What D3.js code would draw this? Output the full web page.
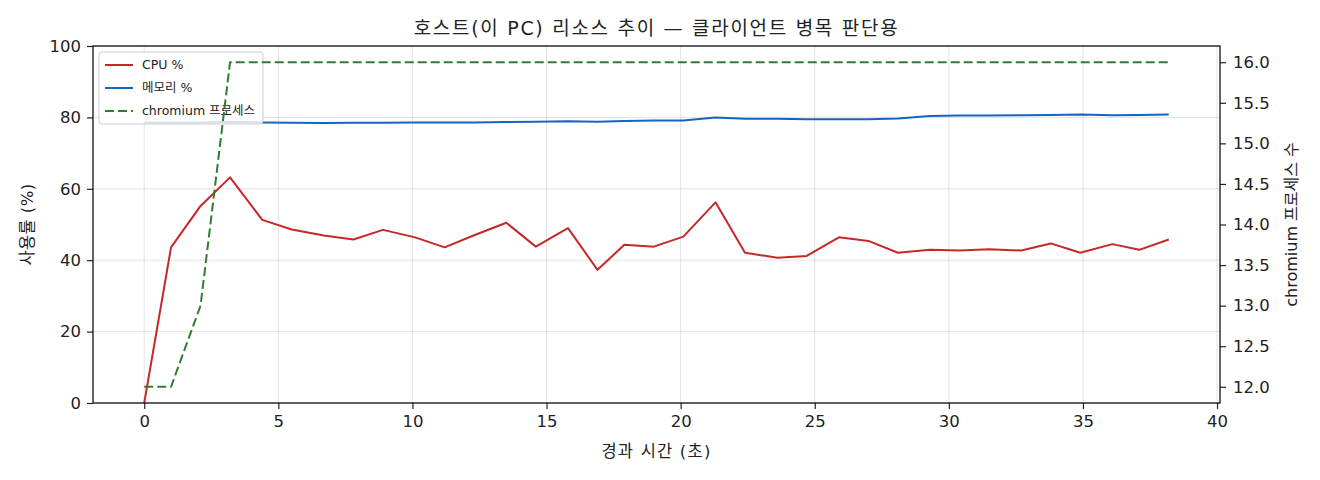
<!DOCTYPE html>
<html>
<head>
<meta charset="utf-8">
<script src="https://cdn.jsdelivr.net/npm/d3@7"></script>
<style>
  body { margin: 0; background: #fff; }
  svg text { font-family: "DejaVu Sans", "Noto Sans CJK KR", sans-serif; fill: #222; }
</style>
</head>
<body>
<script>
// elapsed seconds of each sample
const times = [0, 1.0, 2.1, 3.2, 4.4, 5.5, 6.7, 7.8, 8.9, 10.1, 11.2, 12.3, 13.5, 14.6, 15.8, 16.9, 17.9,
  19.0, 20.1, 21.3, 22.4, 23.6, 24.7, 25.9, 27.0, 28.1, 29.3, 30.4, 31.5, 32.7, 33.8, 34.9, 36.1, 37.1, 38.2];

const cpu = [0, 43.6, 55.2, 63.2, 51.3, 48.6, 46.9, 45.8, 48.5, 46.4, 43.6, 47.0, 50.5, 43.8, 49.0, 37.3, 44.3,
  43.8, 46.6, 56.2, 42.1, 40.7, 41.2, 46.4, 45.4, 42.1, 42.9, 42.7, 43.1, 42.7, 44.7, 42.1, 44.5, 42.9, 45.8];

const mem = [78.6, 78.6, 78.6, 78.7, 78.6, 78.5, 78.4, 78.5, 78.5, 78.6, 78.6, 78.6, 78.7, 78.8, 78.9, 78.8, 79.0,
  79.1, 79.1, 80.0, 79.6, 79.6, 79.5, 79.5, 79.5, 79.7, 80.4, 80.5, 80.5, 80.6, 80.7, 80.8, 80.6, 80.7, 80.8];

const procs = [12, 12, 13, 16, 16, 16, 16, 16, 16, 16, 16, 16, 16, 16, 16, 16, 16,
  16, 16, 16, 16, 16, 16, 16, 16, 16, 16, 16, 16, 16, 16, 16, 16, 16, 16];

const xTicks = [0, 5, 10, 15, 20, 25, 30, 35, 40];
const yTicks = [0, 20, 40, 60, 80, 100];
const y2Ticks = [12.0, 12.5, 13.0, 13.5, 14.0, 14.5, 15.0, 15.5, 16.0];

const seriesInfo = [
  { name: "CPU %", values: cpu, color: "#c62828", dash: null, axis: "left" },
  { name: "메모리 %", values: mem, color: "#1565c0", dash: null, axis: "left" },
  { name: "chromium 프로세스", values: procs, color: "#2e7d32", dash: "9,4", axis: "right" }
];

const W = 1320, H = 480;
const margin = { top: 46, right: 100, bottom: 77, left: 93 };
const iw = W - margin.left - margin.right;
const ih = H - margin.top - margin.bottom;

const svg = d3.select("body").append("svg")
  .attr("width", W).attr("height", H);

const g = svg.append("g").attr("transform", `translate(${margin.left},${margin.top})`);

// matplotlib-style 5% padding on x
const xPad = (d3.max(times) - d3.min(times)) * 0.05;
const x = d3.scaleLinear().domain([d3.min(times) - xPad, d3.max(times) + xPad]).range([0, iw]);
const y = d3.scaleLinear().domain([0, 100]).range([ih, 0]);
const yPad = (d3.max(procs) - d3.min(procs)) * 0.05;
const y2 = d3.scaleLinear().domain([d3.min(procs) - yPad, d3.max(procs) + yPad]).range([ih, 0]);

// grid
g.append("g").selectAll("line").data(xTicks.filter(t => x(t) <= iw)).join("line")
  .attr("x1", d => x(d)).attr("x2", d => x(d)).attr("y1", 0).attr("y2", ih)
  .attr("stroke", "#b0b0b0").attr("stroke-opacity", 0.35);
g.append("g").selectAll("line").data(yTicks).join("line")
  .attr("x1", 0).attr("x2", iw).attr("y1", d => y(d)).attr("y2", d => y(d))
  .attr("stroke", "#b0b0b0").attr("stroke-opacity", 0.35);

const lineFor = (scale, vals) => d3.line()
  .x((d, i) => x(times[i]))
  .y(d => scale(d))(vals);

// left axis series
seriesInfo.filter(s => s.axis === "left").forEach(s => {
  g.append("path")
    .attr("d", lineFor(y, s.values))
    .attr("fill", "none").attr("stroke", s.color).attr("stroke-width", 2)
    .attr("stroke-linejoin", "round");
});

// legend (belongs to the left axes, so twin series paint over it)
const legend = g.append("g").attr("transform", "translate(6,6)");
legend.append("rect")
  .attr("width", 164).attr("height", 72).attr("rx", 3)
  .attr("fill", "#fff").attr("fill-opacity", 0.8)
  .attr("stroke", "#cccccc").attr("stroke-width", 1);
seriesInfo.forEach((s, i) => {
  const row = legend.append("g").attr("transform", `translate(6,${13 + i * 23})`);
  row.append("line").attr("x1", 0).attr("x2", 28)
    .attr("stroke", s.color).attr("stroke-width", 2)
    .attr("stroke-dasharray", s.dash);
  row.append("text").attr("x", 37).attr("dy", "0.35em")
    .attr("font-size", 12.5).text(s.name);
});

// right axis series
seriesInfo.filter(s => s.axis === "right").forEach(s => {
  g.append("path")
    .attr("d", lineFor(y2, s.values))
    .attr("fill", "none").attr("stroke", s.color).attr("stroke-width", 2)
    .attr("stroke-dasharray", s.dash);
});

// axes
const fs = 16.5;
const xAxis = g.append("g").attr("transform", `translate(0,${ih})`)
  .call(d3.axisBottom(x).tickValues(xTicks).tickSize(6).tickPadding(6).tickSizeOuter(0));
const yAxis = g.append("g")
  .call(d3.axisLeft(y).tickValues(yTicks).tickSize(6).tickPadding(6).tickSizeOuter(0));
const y2Axis = g.append("g").attr("transform", `translate(${iw},0)`)
  .call(d3.axisRight(y2).tickValues(y2Ticks).tickFormat(d3.format(".1f")).tickSize(6).tickPadding(7).tickSizeOuter(0));

[xAxis, yAxis, y2Axis].forEach(a => {
  a.select(".domain").remove();
  a.selectAll("text").attr("font-size", fs).attr("fill", "#222")
    .attr("font-family", '"DejaVu Sans", "Noto Sans CJK KR", sans-serif');
  a.selectAll("line").attr("stroke", "#222").attr("stroke-width", 1.2);
});

g.append("rect").attr("width", iw).attr("height", ih)
  .attr("fill", "none").attr("stroke", "#111").attr("stroke-width", 1.3);

// labels
svg.append("text").attr("x", margin.left + iw / 2).attr("y", 35)
  .attr("text-anchor", "middle").attr("font-size", 19).attr("letter-spacing", 1.7)
  .text("호스트(이 PC) 리소스 추이 — 클라이언트 병목 판단용");

svg.append("text").attr("x", margin.left + iw / 2).attr("y", 457)
  .attr("text-anchor", "middle").attr("font-size", 16.5).attr("letter-spacing", 1.2)
  .text("경과 시간 (초)");

svg.append("text")
  .attr("transform", `translate(33,${margin.top + ih / 2}) rotate(-90)`)
  .attr("text-anchor", "middle").attr("font-size", 16.5).attr("letter-spacing", 0.4)
  .text("사용률 (%)");

svg.append("text")
  .attr("transform", `translate(1297,${margin.top + ih / 2}) rotate(-90)`)
  .attr("text-anchor", "middle").attr("font-size", 16)
  .text("chromium 프로세스 수");
</script>
</body>
</html>
